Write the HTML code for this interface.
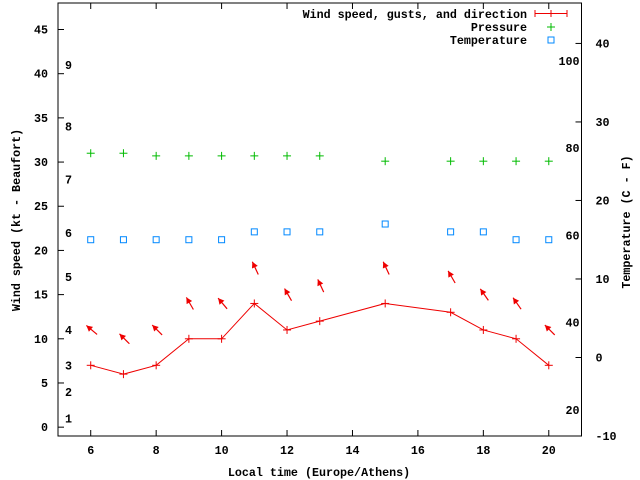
<!DOCTYPE html>
<html><head><meta charset="utf-8">
<style>
html,body{margin:0;padding:0;background:#fff;}
svg{display:block;}
text{font-family:"Liberation Mono",monospace;font-weight:bold;font-size:11.7px;fill:#000;}
</style></head>
<body>
<svg id="chart" width="640" height="480" xmlns="http://www.w3.org/2000/svg">
  <rect x="58" y="3" width="523.5" height="433" fill="none" stroke="#000" stroke-width="1"/>
  <g id="axes"></g>
  <g id="marks"></g>
  <text x="319" y="476" text-anchor="middle">Local time (Europe/Athens)</text>
  <text transform="translate(20,220) rotate(-90)" text-anchor="middle">Wind speed (kt - Beaufort)</text>
  <text transform="translate(630,222) rotate(-90)" text-anchor="middle">Temperature (C - F)</text>
  <g>
    <text x="527" y="18" text-anchor="end">Wind speed, gusts, and direction</text>
    <line x1="535" y1="13.5" x2="567" y2="13.5" stroke="#e00" stroke-width="1"/>
    <line x1="535" y1="10" x2="535" y2="17" stroke="#e00"/>
    <line x1="567" y1="10" x2="567" y2="17" stroke="#e00"/>
    <line x1="551" y1="10" x2="551" y2="17" stroke="#e00"/>
    <text x="527" y="31" text-anchor="end">Pressure</text>
    <line x1="547" y1="27" x2="555" y2="27" stroke="#0b0"/><line x1="551" y1="23" x2="551" y2="31" stroke="#0b0"/>
    <text x="527" y="44" text-anchor="end">Temperature</text>
    <rect x="548" y="37" width="6" height="6" fill="none" stroke="#08f"/>
  </g>
</svg>
<script>
const hours = [6,7,8,9,10,11,12,13,15,17,18,19,20];
const windKt = [7,6,7,10,10,14,11,12,14,13,11,10,7];
const gustKt = [11,10,11,14,14,18,15,16,18,17,15,14,11];
const windArrowDeg = [50,45,45,30,40,25,30,25,25,30,35,35,45];
const pressureHpa = [1016.0,1016.0,1015.7,1015.7,1015.7,1015.7,1015.7,1015.7,1015.1,1015.1,1015.1,1015.1,1015.1];
const temperatureC = [15,15,15,15,15,16,16,16,17,16,16,15,15];
const xTicks = [6,8,10,12,14,16,18,20];
const yTicks = [0,5,10,15,20,25,30,35,40,45];
const y2Ticks = [-10,0,10,20,30,40];
const beaufortLabels = ["1","2","3","4","5","6","7","8","9"];
const beaufortKt = [1,4,7,11,17,22,28,34,41];
const fahrenheitLabels = [20,40,60,80,100];

const L=58,R=581.5,T=3,B=436;
const X = h => L + (h-5)/(21-5)*(R-L);
const Y = v => B - (v+1)/(48+1)*(B-T);
const Y2 = c => B - (c+10)/(45.15+10)*(B-T);
const PY = p => Y(p-985);
const NS="http://www.w3.org/2000/svg";
const axes=document.getElementById('axes'), marks=document.getElementById('marks');
function el(tag,attrs,parent){const e=document.createElementNS(NS,tag);for(const k in attrs)e.setAttribute(k,attrs[k]);parent.appendChild(e);return e;}

xTicks.forEach(h=>{
  const x=X(h);
  const t1=el('line',{x1:x,y1:B,x2:x,y2:B-6,stroke:'#000'},axes);
  
  
  el('line',{x1:x,y1:T,x2:x,y2:T+6,stroke:'#000'},axes);
  const t=el('text',{x:x,y:B+18,'text-anchor':'middle'},axes);
  
  
  t.textContent=h;
});
yTicks.forEach(v=>{
  const y=Y(v);
  el('line',{x1:L,y1:y,x2:L+6,y2:y,stroke:'#000'},axes);
  const t=el('text',{x:L-10,y:y+4,'text-anchor':'end'},axes);
  
  
  t.textContent=v;
});
y2Ticks.forEach(c=>{
  const y=Y2(c);
  el('line',{x1:R,y1:y,x2:R-6,y2:y,stroke:'#000'},axes);
  const t=el('text',{x:R+14,y:y+4,'text-anchor':'start'},axes);
  
  
  t.textContent=c;
});
beaufortLabels.forEach((b,i)=>{
  const t=el('text',{x:65,y:Y(beaufortKt[i])+4},axes);
  
  
  t.textContent=b;
});
fahrenheitLabels.forEach(f=>{
  const t=el('text',{x:R-2,y:Y2((f-32)/1.8)+4,'text-anchor':'end'},axes);
  
  
  t.textContent=f;
});

const pts=hours.map((h,i)=>X(h)+','+Y(windKt[i])).join(' ');
const pl=el('polyline',{points:pts,fill:'none',stroke:'#e00','stroke-width':1},marks);


hours.forEach((h,i)=>{
  const x=X(h),y=Y(windKt[i]);
  const g=el('g',{},marks);
  
  
  el('line',{x1:x-4,y1:y,x2:x+4,y2:y,stroke:'#e00'},g);
  el('line',{x1:x,y1:y-4,x2:x,y2:y+4,stroke:'#e00'},g);
  const gy=Y(gustKt[i]), a=windArrowDeg[i]*Math.PI/180, len=14;
  const dx=-Math.sin(a)*len/2, dy=-Math.cos(a)*len/2;
  const cx=x+1;
  const hx=cx+dx, hy=gy+dy, tx=cx-dx, ty=gy-dy;
  const ag=el('g',{},marks);
  
  
  el('line',{x1:tx,y1:ty,x2:hx,y2:hy,stroke:'#e00','stroke-width':1.2},ag);
  const ux=dx/(len/2), uy=dy/(len/2);
  const bx=hx-ux*6, by=hy-uy*6;
  el('polygon',{points:`${hx},${hy} ${bx-uy*3.2},${by+ux*3.2} ${bx+uy*3.2},${by-ux*3.2}`,fill:'#e00'},ag);
  const py=PY(pressureHpa[i]);
  const pg=el('g',{},marks);
  
  
  el('line',{x1:x-4,y1:py,x2:x+4,y2:py,stroke:'#0b0'},pg);
  el('line',{x1:x,y1:py-4,x2:x,y2:py+4,stroke:'#0b0'},pg);
  const ty2=Y2(temperatureC[i]);
  const tr=el('rect',{x:x-3,y:ty2-3,width:6,height:6,fill:'none',stroke:'#08f'},marks);
  
  
});
</script>
</body></html>
